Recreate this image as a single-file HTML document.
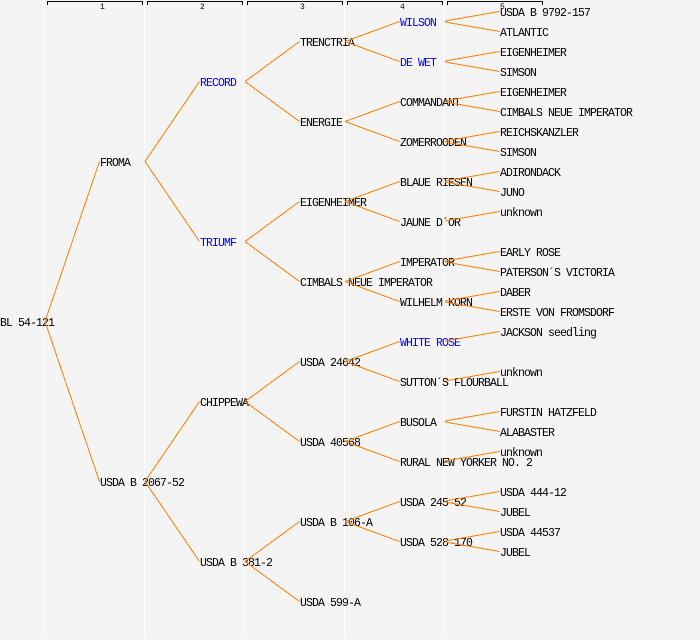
<!DOCTYPE html>
<html>
<head>
<meta charset="utf-8">
<style>
  html, body { margin: 0; padding: 0; background: #f4f4f4; }
  svg { display: block; }
  text { font-family: "Liberation Mono", "DejaVu Sans Mono", monospace; font-size: 11.5px; letter-spacing: -0.9px; fill: #000; }
  text.b { fill: #0000ff; }
  text.n { font-size: 8px; letter-spacing: 0; }
  line.c { stroke: #ff8000; stroke-width: 1; shape-rendering: crispEdges; }
</style>
</head>
<body>
<svg width="700" height="640" viewBox="0 0 700 640" xmlns="http://www.w3.org/2000/svg">
  <rect x="0" y="0" width="700" height="640" fill="#f4f4f4"/>
  <!-- column separators -->
  <g stroke="#ffffff" stroke-width="1" shape-rendering="crispEdges">
    <line x1="44.5" y1="0" x2="44.5" y2="638"/>
    <line x1="144.5" y1="0" x2="144.5" y2="638"/>
    <line x1="244.5" y1="0" x2="244.5" y2="638"/>
    <line x1="344.5" y1="0" x2="344.5" y2="638"/>
    <line x1="444.5" y1="0" x2="444.5" y2="638"/>
  </g>
  <!-- header brackets -->
  <g stroke="#000" stroke-width="1" fill="none" shape-rendering="crispEdges">
    <path d="M47.5 5 V1.5 H142.5 V5"/>
    <path d="M147.5 5 V1.5 H242.5 V5"/>
    <path d="M247.5 5 V1.5 H342.5 V5"/>
    <path d="M347.5 5 V1.5 H442.5 V5"/>
    <path d="M447.5 5 V1.5 H542.5 V5"/>
  </g>
  <text class="n" x="100" y="9">1</text>
  <text class="n" x="200" y="9">2</text>
  <text class="n" x="300" y="9">3</text>
  <text class="n" x="400" y="9">4</text>
  <text class="n" x="500" y="9">5</text>

  <!-- root -->
  <text x="0" y="326">BL 54-121</text>
  <!-- col 1 -->
  <text x="100" y="166">FROMA</text>
  <text x="100" y="486">USDA B 2067-52</text>
  <!-- col 2 -->
  <text class="b" x="200" y="86">RECORD</text>
  <text class="b" x="200" y="246">TRIUMF</text>
  <text x="200" y="406">CHIPPEWA</text>
  <text x="200" y="566">USDA B 381-2</text>
  <!-- col 3 -->
  <text x="300" y="46">TRENCTRIA</text>
  <text x="300" y="126">ENERGIE</text>
  <text x="300" y="206">EIGENHEIMER</text>
  <text x="300" y="286">CIMBALS NEUE IMPERATOR</text>
  <text x="300" y="366">USDA 24642</text>
  <text x="300" y="446">USDA 40568</text>
  <text x="300" y="526">USDA B 106-A</text>
  <text x="300" y="606">USDA 599-A</text>
  <!-- col 4 -->
  <text class="b" x="400" y="26">WILSON</text>
  <text class="b" x="400" y="66">DE WET</text>
  <text x="400" y="106">COMMANDANT</text>
  <text x="400" y="146">ZOMERROODEN</text>
  <text x="400" y="186">BLAUE RIESEN</text>
  <text x="400" y="226">JAUNE D´OR</text>
  <text x="400" y="266">IMPERATOR</text>
  <text x="400" y="306">WILHELM KORN</text>
  <text class="b" x="400" y="346">WHITE ROSE</text>
  <text x="400" y="386">SUTTON´S FLOURBALL</text>
  <text x="400" y="426">BUSOLA</text>
  <text x="400" y="466">RURAL NEW YORKER NO. 2</text>
  <text x="400" y="506">USDA 245-52</text>
  <text x="400" y="546">USDA 528-170</text>
  <!-- col 5 -->
  <text x="500" y="16">USDA B 9792-157</text>
  <text x="500" y="36">ATLANTIC</text>
  <text x="500" y="56">EIGENHEIMER</text>
  <text x="500" y="76">SIMSON</text>
  <text x="500" y="96">EIGENHEIMER</text>
  <text x="500" y="116">CIMBALS NEUE IMPERATOR</text>
  <text x="500" y="136">REICHSKANZLER</text>
  <text x="500" y="156">SIMSON</text>
  <text x="500" y="176">ADIRONDACK</text>
  <text x="500" y="196">JUNO</text>
  <text x="500" y="216">unknown</text>
  <text x="500" y="256">EARLY ROSE</text>
  <text x="500" y="276">PATERSON´S VICTORIA</text>
  <text x="500" y="296">DABER</text>
  <text x="500" y="316">ERSTE VON FROMSDORF</text>
  <text x="500" y="336">JACKSON seedling</text>
  <text x="500" y="376">unknown</text>
  <text x="500" y="416">FURSTIN HATZFELD</text>
  <text x="500" y="436">ALABASTER</text>
  <text x="500" y="456">unknown</text>
  <text x="500" y="496">USDA 444-12</text>
  <text x="500" y="516">JUBEL</text>
  <text x="500" y="536">USDA 44537</text>
  <text x="500" y="556">JUBEL</text>

  <!-- connectors -->
  <g>
    <!-- root -->
    <line class="c" x1="45" y1="321.5" x2="99.5" y2="161.5"/>
    <line class="c" x1="45" y1="321.5" x2="99.5" y2="481.5"/>
    <!-- col1 -->
    <line class="c" x1="145" y1="161.5" x2="199.5" y2="81.5"/>
    <line class="c" x1="145" y1="161.5" x2="199.5" y2="241.5"/>
    <line class="c" x1="145" y1="481.5" x2="199.5" y2="401.5"/>
    <line class="c" x1="145" y1="481.5" x2="199.5" y2="561.5"/>
    <!-- col2 -->
    <line class="c" x1="245" y1="81.5" x2="299.5" y2="41.5"/>
    <line class="c" x1="245" y1="81.5" x2="299.5" y2="121.5"/>
    <line class="c" x1="245" y1="241.5" x2="299.5" y2="201.5"/>
    <line class="c" x1="245" y1="241.5" x2="299.5" y2="281.5"/>
    <line class="c" x1="245" y1="401.5" x2="299.5" y2="361.5"/>
    <line class="c" x1="245" y1="401.5" x2="299.5" y2="441.5"/>
    <line class="c" x1="245" y1="561.5" x2="299.5" y2="521.5"/>
    <line class="c" x1="245" y1="561.5" x2="299.5" y2="601.5"/>
    <!-- col3 -->
    <line class="c" x1="345" y1="41.5" x2="399.5" y2="21.5"/>
    <line class="c" x1="345" y1="41.5" x2="399.5" y2="61.5"/>
    <line class="c" x1="345" y1="121.5" x2="399.5" y2="101.5"/>
    <line class="c" x1="345" y1="121.5" x2="399.5" y2="141.5"/>
    <line class="c" x1="345" y1="201.5" x2="399.5" y2="181.5"/>
    <line class="c" x1="345" y1="201.5" x2="399.5" y2="221.5"/>
    <line class="c" x1="345" y1="281.5" x2="399.5" y2="261.5"/>
    <line class="c" x1="345" y1="281.5" x2="399.5" y2="301.5"/>
    <line class="c" x1="345" y1="361.5" x2="399.5" y2="341.5"/>
    <line class="c" x1="345" y1="361.5" x2="399.5" y2="381.5"/>
    <line class="c" x1="345" y1="441.5" x2="399.5" y2="421.5"/>
    <line class="c" x1="345" y1="441.5" x2="399.5" y2="461.5"/>
    <line class="c" x1="345" y1="521.5" x2="399.5" y2="501.5"/>
    <line class="c" x1="345" y1="521.5" x2="399.5" y2="541.5"/>
    <!-- col4 -->
    <line class="c" x1="445" y1="21" x2="499.5" y2="11.5"/>
    <line class="c" x1="445" y1="22" x2="499.5" y2="31.5"/>
    <line class="c" x1="445" y1="61" x2="499.5" y2="51.5"/>
    <line class="c" x1="445" y1="62" x2="499.5" y2="71.5"/>
    <line class="c" x1="445" y1="101" x2="499.5" y2="91.5"/>
    <line class="c" x1="445" y1="102" x2="499.5" y2="111.5"/>
    <line class="c" x1="445" y1="141" x2="499.5" y2="131.5"/>
    <line class="c" x1="445" y1="142" x2="499.5" y2="151.5"/>
    <line class="c" x1="445" y1="181" x2="499.5" y2="171.5"/>
    <line class="c" x1="445" y1="182" x2="499.5" y2="191.5"/>
    <line class="c" x1="445" y1="221" x2="499.5" y2="211.5"/>
    <line class="c" x1="445" y1="261" x2="499.5" y2="251.5"/>
    <line class="c" x1="445" y1="262" x2="499.5" y2="271.5"/>
    <line class="c" x1="445" y1="301" x2="499.5" y2="291.5"/>
    <line class="c" x1="445" y1="302" x2="499.5" y2="311.5"/>
    <line class="c" x1="445" y1="341" x2="499.5" y2="331.5"/>
    <line class="c" x1="445" y1="381" x2="499.5" y2="371.5"/>
    <line class="c" x1="445" y1="421" x2="499.5" y2="411.5"/>
    <line class="c" x1="445" y1="422" x2="499.5" y2="431.5"/>
    <line class="c" x1="445" y1="461" x2="499.5" y2="451.5"/>
    <line class="c" x1="445" y1="501" x2="499.5" y2="491.5"/>
    <line class="c" x1="445" y1="502" x2="499.5" y2="511.5"/>
    <line class="c" x1="445" y1="541" x2="499.5" y2="531.5"/>
    <line class="c" x1="445" y1="542" x2="499.5" y2="551.5"/>
  </g>
</svg>
</body>
</html>
